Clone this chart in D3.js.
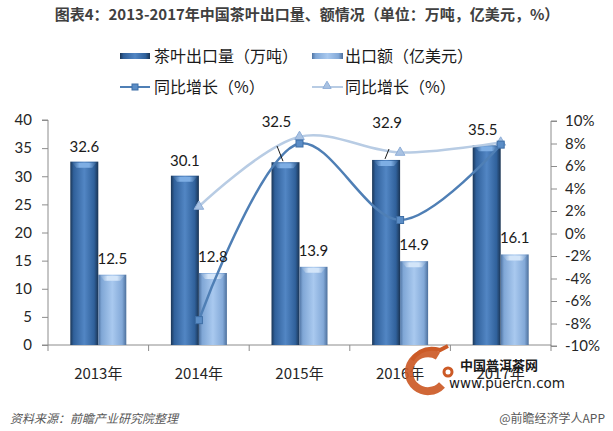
<!DOCTYPE html>
<html>
<head>
<meta charset="utf-8">
<script src="https://cdn.jsdelivr.net/npm/d3@7"></script>
<style>
  body { margin: 0; background: #fff; }
  text { font-family: Lato, "Noto Sans CJK SC", sans-serif; }
  .cn { font-family: "Noto Sans CJK SC", sans-serif; }
</style>
</head>
<body>
<script>
// data
const years = ['2013年', '2014年', '2015年', '2016年', '2017年'];
const volume = [32.6, 30.1, 32.5, 32.9, 35.5];      // 茶叶出口量（万吨）
const value = [12.5, 12.8, 13.9, 14.9, 16.1];       // 出口额（亿美元）
const volGrowth = [null, -7.7, 8.0, 1.2, 7.9];      // 同比增长（%）
const valGrowth = [null, 2.4, 8.6, 7.2, 8.1];       // 同比增长（%）
const leftTicks = [0, 5, 10, 15, 20, 25, 30, 35, 40];
const rightTicks = [-10, -8, -6, -4, -2, 0, 2, 4, 6, 8, 10];

const W = 613, H = 431;
const svg = d3.select('body').append('svg')
    .attr('width', W)
    .attr('height', H);

const defs = svg.append('defs');
function barGrad(id, stops) {
    const g = defs.append('linearGradient').attr('id', id)
        .attr('x1', '0%').attr('x2', '100%').attr('y1', '0%').attr('y2', '0%');
    stops.forEach(s => g.append('stop').attr('offset', s[0]).attr('stop-color', s[1]));
}
barGrad('dark', [[0, '#1b3656'], [0.12, '#30609a'], [0.5, '#5286c4'], [0.85, '#30619b'], [1, '#1a3453']]);
barGrad('light', [[0, '#4f74a3'], [0.12, '#80a7d6'], [0.5, '#a9c9ef'], [0.85, '#83a9d8'], [1, '#4d709c']]);
barGrad('darkTop', [[0, '#2f5b8f'], [0.3, '#7eaee4'], [0.7, '#7eaee4'], [1, '#2f5b8f']]);
barGrad('lightTop', [[0, '#7ea3d0'], [0.3, '#d3e5f9'], [0.7, '#d3e5f9'], [1, '#7ea3d0']]);

// scales
const x = d3.scaleBand().domain(years).range([48, 551]);
const yL = d3.scaleLinear().domain([0, 40]).range([345, 120]);
const yR = d3.scaleLinear().domain([-10, 10]).range([346, 121]);
const bw = 28;

// title
svg.append('text').attr('class', 'cn')
    .attr('x', 307).attr('y', 20)
    .attr('text-anchor', 'middle')
    .attr('font-size', 15).attr('font-weight', 'bold').attr('fill', '#404040')
    .text('图表4：2013-2017年中国茶叶出口量、额情况（单位：万吨，亿美元，%）');

// axes
const axisColor = '#8c8c8c';
const gL = svg.append('g').attr('transform', 'translate(48,0)')
    .call(d3.axisLeft(yL).tickValues(leftTicks).tickSize(6).tickPadding(10));
const gR = svg.append('g').attr('transform', 'translate(551,0)')
    .call(d3.axisRight(yR).tickValues(rightTicks).tickSize(6).tickPadding(8)
        .tickFormat(d => d + '%'));
[gL, gR].forEach(g => {
    g.select('.domain').attr('stroke', axisColor);
    g.selectAll('.tick line').attr('stroke', axisColor);
    g.selectAll('.tick text').attr('font-size', 15).attr('fill', '#262626')
        .style('font-family', 'Lato, sans-serif');
});
gL.select('.domain').attr('d', 'M-6,120H0V345H-6');
gR.select('.domain').attr('d', 'M6,121H0V346H6');

// x axis
svg.append('line').attr('x1', 48).attr('x2', 551).attr('y1', 345).attr('y2', 345)
    .attr('stroke', axisColor);
svg.selectAll('.xtick')
    .data(years.concat(['end']))
    .enter().append('line')
    .attr('x1', (d, i) => i < years.length ? x(d) : x.range()[1])
    .attr('x2', (d, i) => i < years.length ? x(d) : x.range()[1])
    .attr('y1', 345).attr('y2', 351)
    .attr('stroke', axisColor);
svg.selectAll('.xlab')
    .data(years)
    .enter().append('text').attr('class', 'cn')
    .attr('x', d => x(d) + x.bandwidth() / 2)
    .attr('y', 379)
    .attr('text-anchor', 'middle')
    .attr('font-size', 15).attr('fill', '#262626')
    .text(d => d);

// bars
function drawBars(data, off, grad, top) {
    const g = svg.append('g');
    g.selectAll('rect.b')
        .data(data)
        .enter().append('rect')
        .attr('x', (d, i) => x(years[i]) + x.bandwidth() / 2 + off)
        .attr('y', d => yL(d))
        .attr('width', bw)
        .attr('height', d => yL(0) - yL(d))
        .attr('fill', 'url(#' + grad + ')');
    g.selectAll('path.t')
        .data(data)
        .enter().append('path')
        .attr('d', (d, i) => {
            const x0 = x(years[i]) + x.bandwidth() / 2 + off, y0 = yL(d);
            return `M${x0 + 2},${y0 + 1}L${x0 + bw - 2},${y0 + 1}L${x0 + bw - 6},${y0 + 6}L${x0 + 6},${y0 + 6}Z`;
        })
        .attr('fill', 'url(#' + top + ')');
}
drawBars(volume, -bw, 'dark', 'darkTop');
drawBars(value, 0, 'light', 'lightTop');

// growth lines
const line = d3.line()
    .defined(d => d.v != null)
    .x(d => x(d.k) + x.bandwidth() / 2)
    .y(d => yR(d.v))
    .curve(d3.curveCatmullRom.alpha(0.5));
const valPts = years.map((k, i) => ({k: k, v: valGrowth[i]})).filter(d => d.v != null);
const volPts = years.map((k, i) => ({k: k, v: volGrowth[i]})).filter(d => d.v != null);

svg.append('path').datum(valPts).attr('d', line)
    .attr('fill', 'none').attr('stroke', '#b8cce4').attr('stroke-width', 2.5);
svg.append('path').datum(volPts).attr('d', line)
    .attr('fill', 'none').attr('stroke', '#4f7fb5').attr('stroke-width', 2.5);

svg.selectAll('.tri')
    .data(valPts)
    .enter().append('path')
    .attr('transform', d => `translate(${x(d.k) + x.bandwidth() / 2},${yR(d.v)})`)
    .attr('d', d3.symbol(d3.symbolTriangle, 40))
    .attr('fill', '#a9c2e2').attr('stroke', '#8eaed8');
svg.selectAll('.sq')
    .data(volPts)
    .enter().append('rect')
    .attr('x', d => x(d.k) + x.bandwidth() / 2 - 3.5)
    .attr('y', d => yR(d.v) - 3.5)
    .attr('width', 7).attr('height', 7)
    .attr('fill', '#5b8dc6').attr('stroke', '#3f6fa6');

// data labels
const darkNudge = [[0, 0], [0, 0], [-9, -25], [1, -22], [-4, 0]];
svg.selectAll('.lv')
    .data(volume)
    .enter().append('text')
    .attr('x', (d, i) => x(years[i]) + x.bandwidth() / 2 - bw / 2 + darkNudge[i][0])
    .attr('y', (d, i) => yL(d) - 10 + darkNudge[i][1])
    .attr('text-anchor', 'middle')
    .attr('font-size', 15).attr('fill', '#1a1a1a')
    .text(d => d.toFixed(1));
// leader lines for moved labels
svg.append('line').attr('x1', 277).attr('y1', 146).attr('x2', 283).attr('y2', yL(volume[2]) - 1)
    .attr('stroke', '#1a1a1a');
svg.append('line').attr('x1', 389).attr('y1', 149).attr('x2', 385).attr('y2', yL(volume[3]) - 1)
    .attr('stroke', '#1a1a1a');
svg.selectAll('.lw')
    .data(value)
    .enter().append('text')
    .attr('x', (d, i) => x(years[i]) + x.bandwidth() / 2 + bw / 2)
    .attr('y', d => yL(d) - 11)
    .attr('text-anchor', 'middle')
    .attr('font-size', 15).attr('fill', '#1a1a1a')
    .text(d => d.toFixed(1));

// legend
const lg = svg.append('g');
lg.append('rect').attr('x', 120).attr('y', 53).attr('width', 30).attr('height', 6).attr('fill', 'url(#dark)');
lg.append('text').attr('class', 'cn').attr('x', 154).attr('y', 62).attr('font-size', 16).attr('fill', '#1a1a1a')
    .text('茶叶出口量（万吨）');
lg.append('rect').attr('x', 312).attr('y', 53).attr('width', 31).attr('height', 6).attr('fill', 'url(#light)');
lg.append('text').attr('class', 'cn').attr('x', 345).attr('y', 62).attr('font-size', 16).attr('fill', '#1a1a1a')
    .text('出口额（亿美元）');
lg.append('line').attr('x1', 120).attr('x2', 150).attr('y1', 87).attr('y2', 87).attr('stroke', '#4f7fb5').attr('stroke-width', 2);
lg.append('rect').attr('x', 132).attr('y', 84).attr('width', 6).attr('height', 6).attr('fill', '#5b8dc6').attr('stroke', '#3f6fa6');
lg.append('text').attr('class', 'cn').attr('x', 154).attr('y', 93).attr('font-size', 16).attr('fill', '#1a1a1a')
    .text('同比增长（%）');
lg.append('line').attr('x1', 312).attr('x2', 343).attr('y1', 87).attr('y2', 87).attr('stroke', '#b8cce4').attr('stroke-width', 2);
lg.append('path').attr('transform', 'translate(327,86)').attr('d', d3.symbol(d3.symbolTriangle, 30))
    .attr('fill', '#a9c2e2').attr('stroke', '#8eaed8');
lg.append('text').attr('class', 'cn').attr('x', 345).attr('y', 93).attr('font-size', 16).attr('fill', '#1a1a1a')
    .text('同比增长（%）');

// puercn watermark
const wm = svg.append('g');
wm.append('path')
    .attr('d', 'M438,356 A19,19 0 1,0 442,385')
    .attr('fill', 'none').attr('stroke', '#cc5a26').attr('stroke-width', 8).attr('opacity', 0.92);
wm.append('path')
    .attr('d', 'M412,360 Q422,345 440,350 L448,346')
    .attr('fill', 'none').attr('stroke', '#cc5a26').attr('stroke-width', 4);
wm.append('circle').attr('cx', 448).attr('cy', 372).attr('r', 4).attr('fill', 'none')
    .attr('stroke', '#cc5a26').attr('stroke-width', 3);
wm.append('text').attr('class', 'cn').attr('x', 460).attr('y', 370)
    .attr('font-size', 13).attr('font-weight', 'bold').attr('fill', '#1a1a1a').text('中国普洱茶网');
wm.append('text').attr('x', 449).attr('y', 388)
    .attr('font-size', 13.5).attr('fill', '#1a1a1a').style('font-family', '"DejaVu Sans", sans-serif')
    .text('www.puercn.com');

// footer
svg.append('text').attr('class', 'cn').attr('x', 10).attr('y', 423)
    .attr('font-size', 12).attr('font-style', 'italic').attr('fill', '#595959')
    .text('资料来源：前瞻产业研究院整理');
svg.append('text').attr('class', 'cn').attr('x', 605).attr('y', 423)
    .attr('text-anchor', 'end')
    .attr('font-size', 12).attr('fill', '#595959')
    .text('@前瞻经济学人APP');
</script>
</body>
</html>
